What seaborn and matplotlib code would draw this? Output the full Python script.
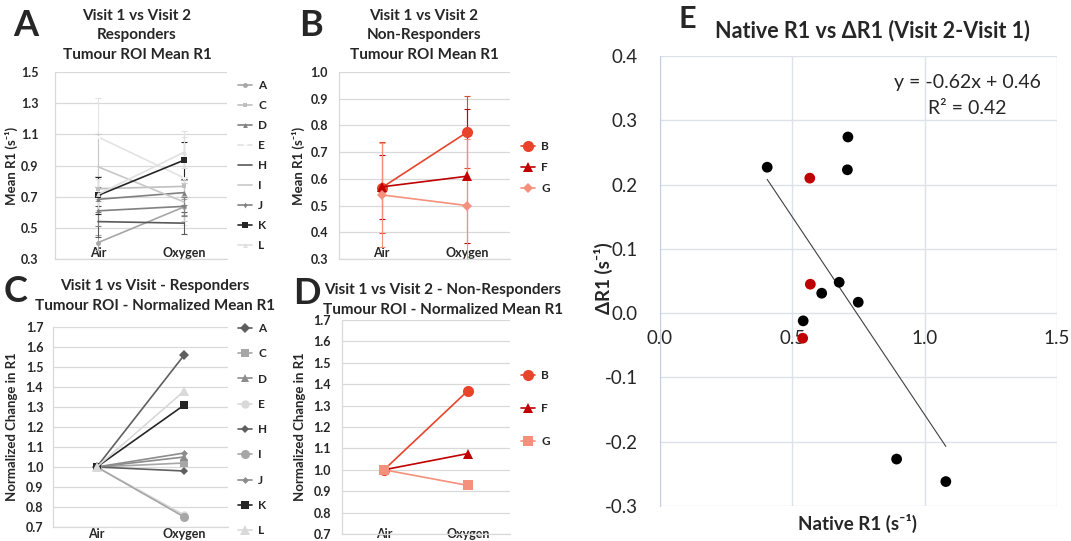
import numpy as np
import pandas as pd
import matplotlib
matplotlib.use("Agg")
import matplotlib.pyplot as plt
from matplotlib.ticker import FormatStrFormatter, MultipleLocator
import seaborn as sns

# ---- data -------------------------------------------------------------
conditions = ["Air", "Oxygen"]

# responders, mean R1 (s^-1)
resp_ids = ["A", "C", "D", "E", "H", "I", "J", "K", "L"]
resp_air = [0.405, 0.751, 0.683, 1.083, 0.540, 0.892, 0.609, 0.708, 0.715]
resp_oxy = [0.634, 0.766, 0.726, 0.821, 0.530, 0.666, 0.638, 0.934, 0.985]
resp_air_err = [0.05, 0.08, 0.08, 0.25, 0.10, 0.21, 0.10, 0.12, 0.10]
resp_oxy_err = [0.05, 0.06, 0.08, 0.30, 0.07, 0.12, 0.06, 0.12, 0.10]
resp_norm_oxy = [1.56, 1.02, 1.05, 0.76, 0.98, 0.75, 1.07, 1.31, 1.38]

# non-responders
nonresp_ids = ["B", "F", "G"]
nonresp_air = [0.567, 0.570, 0.540]
nonresp_oxy = [0.775, 0.610, 0.500]
nonresp_air_err = [0.17, 0.12, 0.195]
nonresp_oxy_err = [0.135, 0.25, 0.25]
nonresp_norm_oxy = [1.37, 1.076, 0.927]

# native R1 vs delta R1
native_r1 = [0.405, 0.710, 0.708, 0.677, 0.611, 0.749, 0.541, 0.894, 1.080,
             0.566, 0.568, 0.539]
delta_r1 = [0.227, 0.274, 0.223, 0.048, 0.031, 0.017, -0.012, -0.227, -0.262,
            0.210, 0.045, -0.039]
group = ["Responder"] * 9 + ["Non-responder"] * 3

ticks_abs_resp = [0.3, 0.5, 0.7, 0.9, 1.1, 1.3, 1.5]
ticks_abs_nonresp = [0.3, 0.4, 0.5, 0.6, 0.7, 0.8, 0.9, 1.0]
ticks_norm = [0.7, 0.8, 0.9, 1.0, 1.1, 1.2, 1.3, 1.4, 1.5, 1.6, 1.7]

# ---- styling ----------------------------------------------------------
sns.set_style("white")
plt.rcParams["font.family"] = ["Lato", "DejaVu Sans"]
plt.rcParams["axes.unicode_minus"] = False

W, H = 1071, 541
fig = plt.figure(figsize=(W / 100, H / 100), dpi=100)


def px_axes(left, top, right, bottom):
    return fig.add_axes([left / W, 1 - bottom / H, (right - left) / W, (bottom - top) / H])


def fig_text(x, y, s, **kw):
    fig.text(x / W, 1 - y / H, s, **kw)


resp_style_abs = {
    "A": ("#a6a6a6", "o", 3.5), "C": ("#bfbfbf", "s", 3.5), "D": ("#808080", "^", 3.5),
    "E": ("#e3e3e3", "x", 3.0), "H": ("#595959", "", 0), "I": ("#c8c8c8", "", 0),
    "J": ("#808080", "d", 3.0), "K": ("#262626", "s", 4.0), "L": ("#e0e0e0", "^", 3.5),
}
resp_style_norm = {
    "A": ("#5f5f5f", "D", 5.0), "C": ("#a6a6a6", "s", 5.5), "D": ("#8c8c8c", "^", 6.0),
    "E": ("#d9d9d9", "o", 6.0), "H": ("#5f5f5f", "D", 4.5), "I": ("#a6a6a6", "o", 6.5),
    "J": ("#8c8c8c", "D", 3.5), "K": ("#262626", "s", 6.0), "L": ("#d9d9d9", "^", 7.0),
}
nonresp_style_abs = {"B": ("#e8432b", "o", 8.0), "F": ("#c00000", "^", 6.5), "G": ("#f5907c", "D", 5.0)}
nonresp_style_norm = {"B": ("#e8432b", "o", 8.0), "F": ("#c00000", "^", 6.5), "G": ("#f5907c", "s", 6.5)}


def style_small_axes(ax, ticks, ypad, xpad):
    ax.set_xlim(-0.5, 1.5)
    ax.set_ylim(ticks[0], ticks[-1])
    ax.set_yticks(ticks)
    ax.yaxis.set_major_formatter(FormatStrFormatter("%.1f"))
    ax.grid(True, axis="y", color="#d9d9d9", lw=0.9)
    ax.grid(False, axis="x")
    for side in ["top", "right"]:
        ax.spines[side].set_visible(False)
    for side in ["left", "bottom"]:
        ax.spines[side].set_color("#d9d9d9")
        ax.spines[side].set_linewidth(0.9)
    ax.tick_params(axis="y", length=0, pad=ypad, labelsize=9)
    ax.tick_params(axis="x", length=0, pad=xpad, labelsize=9)
    for lab in ax.get_xticklabels() + ax.get_yticklabels():
        lab.set_fontweight("bold")
    ax.set_xlabel("")


def draw_lines(ax, ids, air, oxy, styles, air_err=None, oxy_err=None, lw=1.2):
    for i, sid in enumerate(ids):
        color, marker, ms = styles[sid]
        if air_err is not None:
            ax.errorbar(conditions, [air[i], oxy[i]], yerr=[air_err[i], oxy_err[i]],
                        fmt="none", ecolor=color, elinewidth=0.8, capsize=2, capthick=0.8, zorder=2)
        sns.lineplot(x=conditions, y=[air[i], oxy[i]], color=color, marker=marker if marker else None,
                     markersize=ms, markeredgewidth=0.8 if marker in ("x",) else 0,
                     lw=lw, label=sid, ax=ax, zorder=3)


def add_legend(ax, x, y, spacing):
    leg = ax.legend(loc="upper left", bbox_to_anchor=(x / W, 1 - y / H), bbox_transform=fig.transFigure,
                    frameon=False, handlelength=1.2, handletextpad=0.5, borderpad=0, borderaxespad=0,
                    labelspacing=spacing, prop=dict(size=8.5, weight="bold"))
    return leg


title_kw = dict(ha="center", va="top", fontsize=11, fontweight="bold", linespacing=1.5)
ylab_kw = dict(fontsize=9.5, fontweight="bold")

# ---- panel A ----------------------------------------------------------
axA = px_axes(55, 72, 227, 259)
draw_lines(axA, resp_ids, resp_air, resp_oxy, resp_style_abs, resp_air_err, resp_oxy_err)
style_small_axes(axA, ticks_abs_resp, 12, -9)
axA.set_ylabel("Mean R1 (s⁻¹)", **ylab_kw)
axA.yaxis.set_label_coords(-0.215, 0.5)
add_legend(axA, 238, 80, 0.76)
fig_text(137, 9, "Visit 1 vs Visit 2\nResponders\nTumour ROI Mean R1", **title_kw)

# ---- panel B ----------------------------------------------------------
axB = px_axes(339, 72, 510, 259)
draw_lines(axB, nonresp_ids, nonresp_air, nonresp_oxy, nonresp_style_abs, nonresp_air_err, nonresp_oxy_err)
style_small_axes(axB, ticks_abs_nonresp, 8, -9)
axB.set_ylabel("Mean R1 (s⁻¹)", **ylab_kw)
axB.yaxis.set_label_coords(-0.2, 0.5)
add_legend(axB, 521, 141, 0.85)
fig_text(424, 9, "Visit 1 vs Visit 2\nNon-Responders\nTumour ROI Mean R1", **title_kw)

# ---- panel C ----------------------------------------------------------
axC = px_axes(53, 327, 228, 527)
draw_lines(axC, resp_ids, [1.0] * len(resp_ids), resp_norm_oxy, resp_style_norm)
style_small_axes(axC, ticks_norm, 7, 1)
axC.set_ylabel("Normalized Change in R1", **ylab_kw)
axC.yaxis.set_label_coords(-0.2, 0.5)
add_legend(axC, 238, 323, 1.21)
fig_text(155, 279, "Visit 1 vs Visit - Responders\nTumour ROI - Normalized Mean R1", **title_kw)

# ---- panel D ----------------------------------------------------------
axD = px_axes(342, 320, 510, 534)
draw_lines(axD, nonresp_ids, [1.0] * len(nonresp_ids), nonresp_norm_oxy, nonresp_style_norm)
style_small_axes(axD, ticks_norm, 8, -4)
axD.set_ylabel("Normalized Change in R1", **ylab_kw)
axD.yaxis.set_label_coords(-0.215, 0.5)
add_legend(axD, 521, 370, 1.87)
fig_text(443, 283, "Visit 1 vs Visit 2 - Non-Responders\nTumour ROI - Normalized Mean R1", **title_kw)

# ---- panel E ----------------------------------------------------------
axE = px_axes(660, 56, 1057, 506)
dfE = pd.DataFrame({"native": native_r1, "delta": delta_r1, "group": group})
sns.regplot(data=dfE, x="native", y="delta", scatter=False, ci=None, truncate=True,
            line_kws=dict(color="#404040", lw=0.8), ax=axE)
sns.scatterplot(data=dfE, x="native", y="delta", hue="group",
                palette={"Responder": "black", "Non-responder": "#c00000"},
                s=60, linewidth=0, legend=False, ax=axE, zorder=4)
axE.set_xlim(0, 1.5)
axE.set_ylim(-0.3, 0.4)
axE.xaxis.set_major_locator(MultipleLocator(0.5))
axE.yaxis.set_major_locator(MultipleLocator(0.1))
axE.xaxis.set_major_formatter(FormatStrFormatter("%.1f"))
axE.yaxis.set_major_formatter(FormatStrFormatter("%.1f"))
axE.grid(True, color="#dde1ea", lw=1)
axE.spines["bottom"].set_position(("data", 0))
axE.spines["bottom"].set_color("none")
for side in ["top", "right"]:
    axE.spines[side].set_visible(False)
axE.spines["left"].set_color("#c5cedf")
axE.tick_params(axis="x", length=0, pad=12, labelsize=13.5)
axE.tick_params(axis="y", length=0, pad=16, labelsize=13.5)
axE.set_xlabel("")
axE.set_ylabel("")
fig_text(858, 523, "Native R1 (s⁻¹)", ha="center", va="center", fontsize=13.5, fontweight="bold")
fig_text(603, 278, "ΔR1 (s⁻¹)", ha="center", va="center", fontsize=13.5, fontweight="bold",
         rotation=90, family=["Lato", "DejaVu Sans"])
fig_text(872, 31, "Native R1 vs ΔR1 (Visit 2-Visit 1)", ha="center", va="center", fontsize=15.5,
         fontweight="bold", family=["Lato", "DejaVu Sans"])
fig_text(1041, 83, "y = -0.62x + 0.46", ha="right", va="center", fontsize=14)
fig_text(1007, 109, "R² = 0.42", ha="right", va="center", fontsize=14)

# ---- panel letters ----------------------------------------------------
for letter, x, y in [("A", 26, 25), ("B", 311, 25), ("C", 16, 292), ("D", 307, 294), ("E", 687, 19)]:
    fig_text(x, y, letter, ha="center", va="center", fontsize=26 if letter != "E" else 22,
             fontweight="bold")

fig.savefig("out.png", dpi=100)
